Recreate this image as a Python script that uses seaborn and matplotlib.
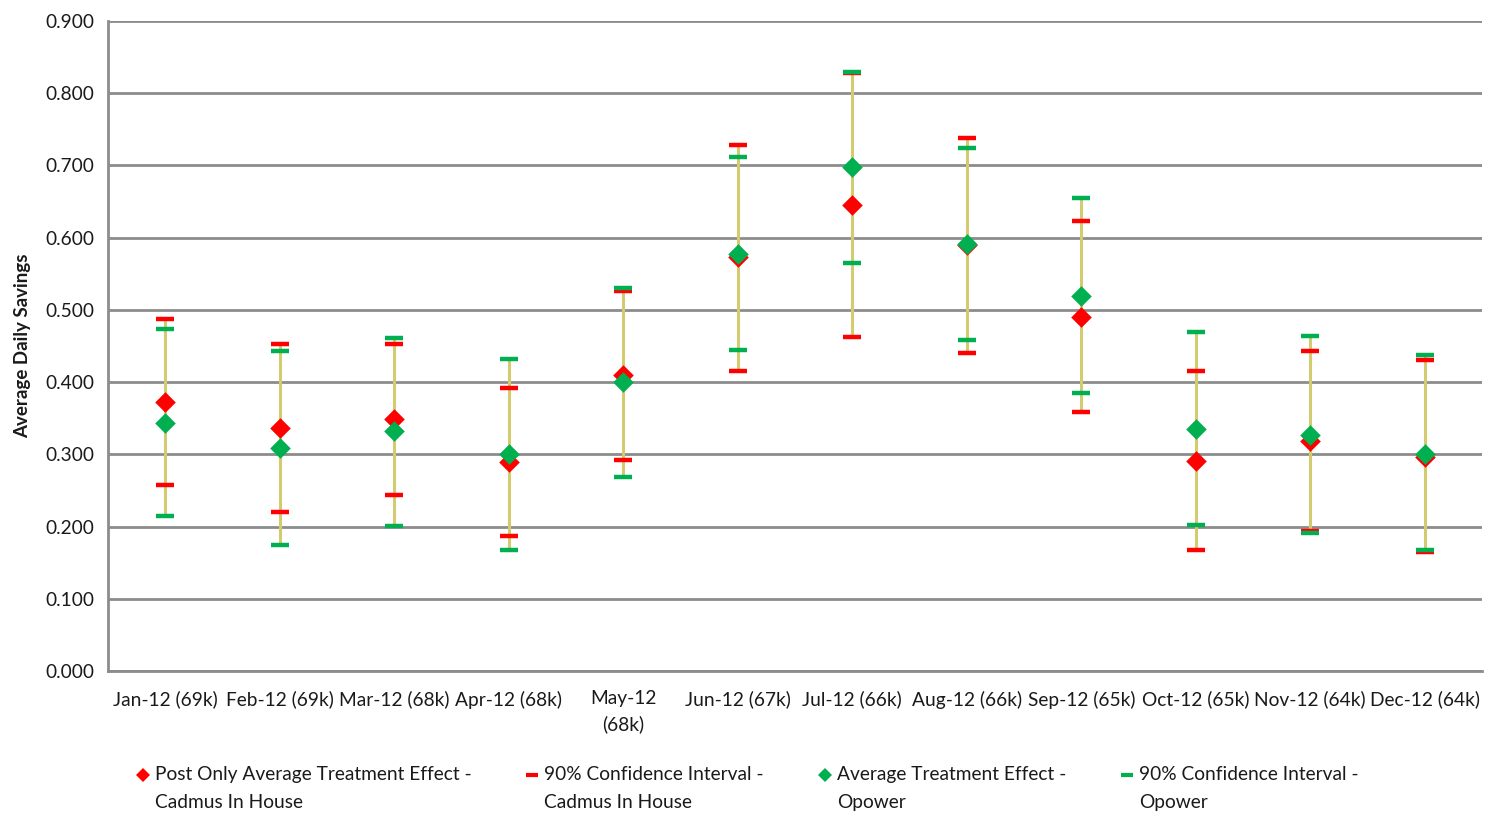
import numpy as np
import pandas as pd
import matplotlib
matplotlib.use("Agg")
import matplotlib.pyplot as plt
from matplotlib.lines import Line2D
from matplotlib.legend_handler import HandlerLine2D
import seaborn as sns

months = ["Jan-12 (69k)", "Feb-12 (69k)", "Mar-12 (68k)", "Apr-12 (68k)", "May-12\n(68k)",
          "Jun-12 (67k)", "Jul-12 (66k)", "Aug-12 (66k)", "Sep-12 (65k)", "Oct-12 (65k)",
          "Nov-12 (64k)", "Dec-12 (64k)"]

# Cadmus in house (post only)
cadmus_ate = [0.372, 0.336, 0.349, 0.289, 0.410, 0.573, 0.645, 0.590, 0.490, 0.291, 0.318, 0.296]
cadmus_hi = [0.487, 0.453, 0.453, 0.392, 0.526, 0.728, 0.828, 0.738, 0.623, 0.415, 0.443, 0.431]
cadmus_lo = [0.258, 0.220, 0.244, 0.187, 0.292, 0.415, 0.462, 0.440, 0.359, 0.167, 0.194, 0.165]

# Opower
opower_ate = [0.343, 0.309, 0.332, 0.300, 0.400, 0.577, 0.698, 0.591, 0.519, 0.335, 0.327, 0.300]
opower_hi = [0.473, 0.443, 0.461, 0.432, 0.530, 0.712, 0.829, 0.724, 0.655, 0.469, 0.464, 0.437]
opower_lo = [0.215, 0.174, 0.201, 0.168, 0.269, 0.444, 0.565, 0.458, 0.385, 0.202, 0.191, 0.168]

RED = "#FF0000"
GREEN = "#00B050"
HILO = "#D4CB70"
GRID = "#8C8C8C"
TXT = "#1a1a1a"
FS = 13.8

sns.set_style("white")
plt.rcParams["font.family"] = ["Lato", "DejaVu Sans"]

x = np.arange(len(months))
df = pd.DataFrame({
    "x": np.concatenate([x, x]),
    "ate": cadmus_ate + opower_ate,
    "src": ["Cadmus"] * len(x) + ["Opower"] * len(x),
})

fig = plt.figure(figsize=(14.85, 8.13), dpi=100)
ax = fig.add_axes([108 / 1485, 1 - 671 / 813, (1482 - 108) / 1485, (671 - 21) / 813])

# high-low lines spanning all interval ends
all_lo = np.minimum.reduce([cadmus_lo, opower_lo, cadmus_ate, opower_ate])
all_hi = np.maximum.reduce([cadmus_hi, opower_hi, cadmus_ate, opower_ate])
ax.vlines(x, all_lo, all_hi, color=HILO, lw=2.2, zorder=2)

cap = dict(marker="_", markersize=13, markeredgewidth=3.2, linestyle="none", zorder=3)
ax.plot(x, cadmus_hi, color=RED, **cap)
ax.plot(x, cadmus_lo, color=RED, **cap)
sns.scatterplot(data=df[df.src == "Cadmus"], x="x", y="ate", color=RED, marker="D",
                s=110, linewidth=0, ax=ax, zorder=4, legend=False)
ax.plot(x, opower_hi, color=GREEN, **cap)
ax.plot(x, opower_lo, color=GREEN, **cap)
sns.scatterplot(data=df[df.src == "Opower"], x="x", y="ate", color=GREEN, marker="D",
                s=110, linewidth=0, ax=ax, zorder=5, legend=False)

ax.set_xlim(-0.5, len(months) - 0.5)
ax.set_ylim(0, 0.9)
ax.set_yticks(np.arange(0, 0.91, 0.1))
ax.set_yticklabels([f"{v:.3f}" for v in np.arange(0, 0.91, 0.1)])
ax.yaxis.grid(True, color=GRID, lw=2)
ax.set_axisbelow(True)

ax.set_xticks(x)
ax.set_xticklabels(months)
ax.set_xticks(np.arange(-0.5, len(months), 1), minor=True)
ax.tick_params(axis="x", which="major", length=0, pad=14, labelsize=FS, labelcolor=TXT)
ax.tick_params(axis="x", which="minor", length=6, width=2, color=GRID, direction="out")
ax.tick_params(axis="y", length=6, width=2, color=GRID, direction="out", labelsize=FS,
               labelcolor=TXT, pad=4)
for lbl in ax.get_xticklabels():
    lbl.set_linespacing(1.5)

for s in ["top", "right"]:
    ax.spines[s].set_visible(False)
for s in ["left", "bottom"]:
    ax.spines[s].set_color(GRID)
    ax.spines[s].set_linewidth(2)

ax.set_xlabel("")
ax.set_ylabel("Average Daily Savings", fontsize=13.5, fontweight="bold", labelpad=10, color=TXT)


class FirstLineHandler(HandlerLine2D):
    # keep the legend marker level with the first text line
    def create_artists(self, legend, orig_handle, xdescent, ydescent, width, height,
                       fontsize, trans):
        return super().create_artists(legend, orig_handle, xdescent, ydescent - 1.45 * fontsize,
                                      width, height, fontsize, trans)


handles = [
    Line2D([], [], color=RED, marker="D", markersize=7, linestyle="none", markeredgewidth=0),
    Line2D([], [], color=RED, marker="_", markersize=9, markeredgewidth=3, linestyle="none"),
    Line2D([], [], color=GREEN, marker="D", markersize=7, linestyle="none", markeredgewidth=0),
    Line2D([], [], color=GREEN, marker="_", markersize=9, markeredgewidth=3, linestyle="none"),
]
labels = ["Post Only Average Treatment Effect -\nCadmus In House",
          "90% Confidence Interval -\nCadmus In House",
          "Average Treatment Effect -\nOpower",
          "90% Confidence Interval -\nOpower"]
leg = fig.legend(handles, labels, ncol=4, loc="upper left", bbox_to_anchor=(137 / 1485, 1 - 766 / 813),
                 frameon=False, fontsize=FS, handlelength=0.6, handletextpad=0.33,
                 columnspacing=2.88, borderaxespad=0, borderpad=0,
                 handler_map={Line2D: FirstLineHandler()})
for t in leg.get_texts():
    t.set_linespacing(1.75)
    t.set_color(TXT)

fig.savefig("out.png", dpi=100)
